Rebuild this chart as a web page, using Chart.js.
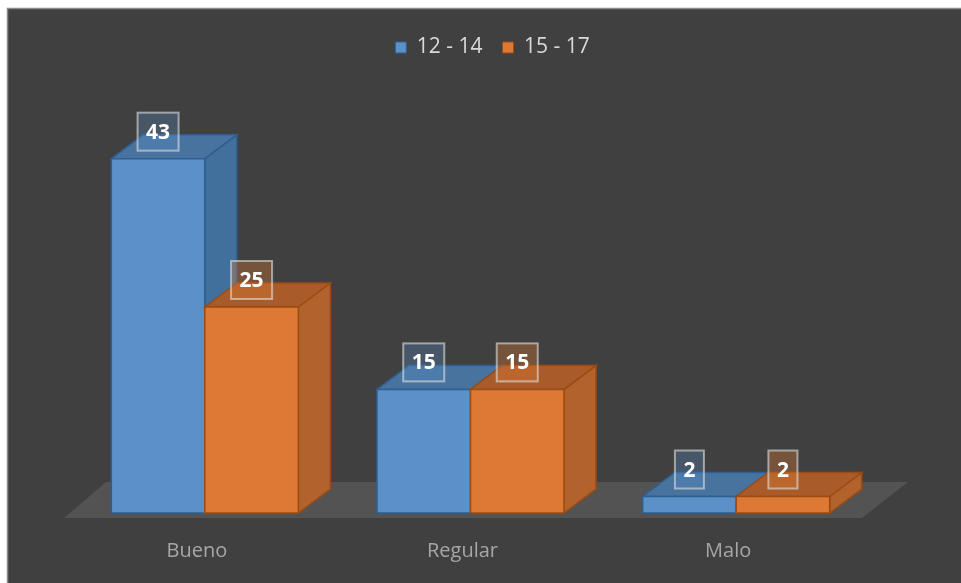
<!DOCTYPE html>
<html>
<head>
<meta charset="utf-8">
<script src="https://cdn.jsdelivr.net/npm/chart.js@4"></script>
<style>
  html, body { margin: 0; background: #fff; }
  #wrap { position: absolute; left: 0; top: 0; width: 961px; height: 583px; }
</style>
</head>
<body>
<div id="wrap"><canvas id="chart"></canvas></div>
<script>
const categories = ['Bueno', 'Regular', 'Malo'];
const seriesNames = ['12 - 14', '15 - 17'];
const serie1214 = [43, 15, 2];
const serie1517 = [25, 15, 2];

// colours of the fake 3D faces, one entry per series
const faces = [
    { front: '#5b90c8', top: '#48739f', side: '#41709d', edge: '#2e5f90', label: 'rgba(91,144,200,0.3)' },
    { front: '#dd7934', top: '#a95c2a', side: '#b1622d', edge: '#9c4b12', label: 'rgba(221,121,52,0.35)' }
];
const depthX = 32, depthY = -24;

function poly(ctx, pts, fill, stroke) {
    ctx.beginPath();
    ctx.moveTo(pts[0][0], pts[0][1]);
    for (let i = 1; i < pts.length; i++) ctx.lineTo(pts[i][0], pts[i][1]);
    ctx.closePath();
    ctx.fillStyle = fill;
    ctx.fill();
    if (stroke) {
        ctx.strokeStyle = stroke;
        ctx.lineWidth = 1.5;
        ctx.stroke();
    }
}

function barBox(bar) {
    const p = bar.getProps(['x', 'y', 'base', 'width'], true);
    return { l: p.x - p.width / 2, r: p.x + p.width / 2, t: p.y, b: p.base, x: p.x };
}

const bars3d = {
    id: 'bars3d',
    beforeDraw(chart) {
        const ctx = chart.ctx, a = chart.chartArea;
        ctx.save();
        ctx.fillStyle = '#fff';
        ctx.fillRect(0, 0, chart.width, chart.height);
        ctx.fillStyle = '#404040';
        ctx.fillRect(7, 8, chart.width - 7, chart.height - 8);
        ctx.strokeStyle = '#8a8a8a';
        ctx.lineWidth = 1.5;
        ctx.beginPath();
        ctx.moveTo(7.5, chart.height);
        ctx.lineTo(7.5, 8.5);
        ctx.lineTo(chart.width, 8.5);
        ctx.stroke();
        // floor under the bars
        const y0 = a.bottom + 5, y1 = a.bottom - 31;
        poly(ctx, [[a.left - 8, y0], [a.right - 7, y0], [a.right + 39, y1], [a.left + 34, y1]], '#535353');
        ctx.restore();
    },
    beforeDatasetsDraw(chart) {
        const ctx = chart.ctx;
        const metas = chart.data.datasets.map((d, i) => chart.getDatasetMeta(i));
        ctx.save();
        // draw back to front: category by category, series left to right
        for (let c = 0; c < categories.length; c++) {
            metas.forEach((meta, i) => {
                const f = faces[i];
                const { l, r, t, b } = barBox(meta.data[c]);
                poly(ctx, [[r, b], [r + depthX, b + depthY], [r + depthX, t + depthY], [r, t]], f.side, f.edge);
                poly(ctx, [[l, t], [l + depthX, t + depthY], [r + depthX, t + depthY], [r, t]], f.top, f.edge);
                poly(ctx, [[l, t], [r, t], [r, b], [l, b]], f.front, f.edge);
            });
        }
        ctx.restore();
        return false;
    },
    afterDraw(chart) {
        const ctx = chart.ctx;
        ctx.save();
        ctx.font = 'bold 21px "Open Sans"';
        ctx.textAlign = 'center';
        ctx.textBaseline = 'middle';
        chart.data.datasets.forEach((ds, i) => {
            const meta = chart.getDatasetMeta(i);
            meta.data.forEach((bar, c) => {
                const { t, x } = barBox(bar);
                const txt = String(ds.data[c]);
                const w = ctx.measureText(txt).width + 17, h = 38;
                const bottom = t - 8;
                ctx.fillStyle = faces[i].label;
                ctx.fillRect(x - w / 2, bottom - h, w, h);
                ctx.strokeStyle = 'rgba(225,225,225,0.6)';
                ctx.lineWidth = 2;
                ctx.strokeRect(x - w / 2, bottom - h, w, h);
                ctx.fillStyle = '#fff';
                ctx.fillText(txt, x, bottom - h / 2 + 1);
            });
        });
        ctx.restore();
    }
};

new Chart(document.getElementById('chart'), {
    type: 'bar',
    data: {
        labels: categories,
        datasets: [
            { label: seriesNames[0], data: serie1214, backgroundColor: faces[0].front, borderColor: faces[0].edge, borderWidth: 1 },
            { label: seriesNames[1], data: serie1517, backgroundColor: faces[1].front, borderColor: faces[1].edge, borderWidth: 1 }
        ]
    },
    options: {
        responsive: true,
        maintainAspectRatio: false,
        animation: false,
        layout: { padding: { left: 72, right: 48, top: 17, bottom: -6 } },
        datasets: { bar: { categoryPercentage: 0.704, barPercentage: 1 } },
        plugins: {
            legend: {
                position: 'top',
                labels: {
                    color: '#d9d9d9',
                    font: { family: '"Open Sans"', size: 21 },
                    boxWidth: 11,
                    boxHeight: 11,
                    padding: 20
                }
            },
            tooltip: { enabled: false }
        },
        scales: {
            x: {
                grid: { display: false, drawTicks: false },
                border: { display: false },
                ticks: { color: '#a6a6a6', font: { family: '"Open Sans"', size: 20 }, padding: 26, labelOffset: -8 }
            },
            y: {
                position: 'right',
                min: 0,
                max: 54,
                grid: { display: false, drawTicks: false },
                border: { display: false },
                ticks: { display: false },
                // empty strip on the right, room for the bars' depth
                afterFit(axis) { axis.width = 44; }
            }
        }
    },
    plugins: [bars3d]
});
</script>
</body>
</html>
